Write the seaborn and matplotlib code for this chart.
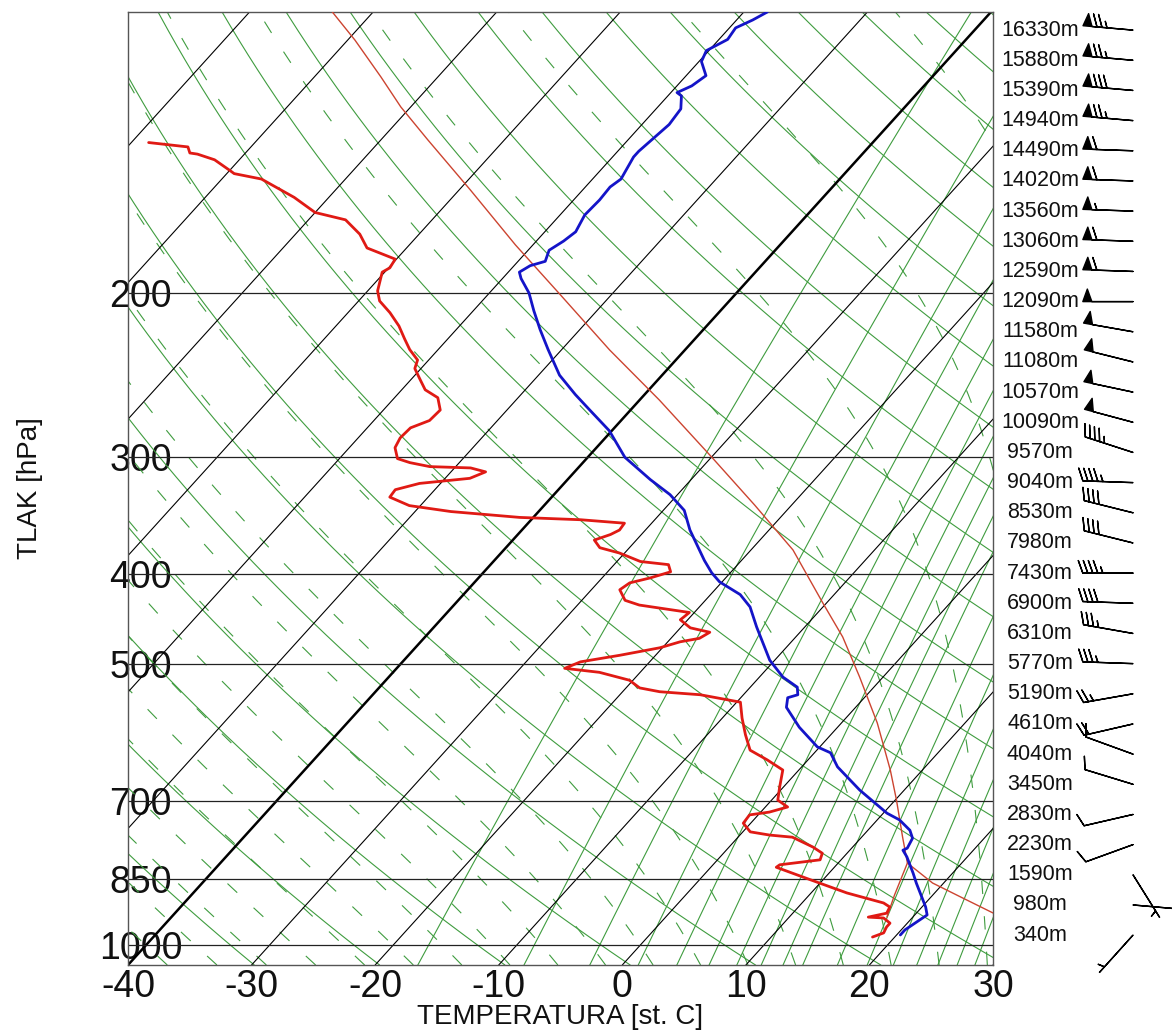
import numpy as np
import pandas as pd
import seaborn as sns
import matplotlib
matplotlib.use("Agg")
import matplotlib.pyplot as plt
from matplotlib.ticker import NullLocator

# Sounding: pressure (hPa) and temperature (deg C)
temp_p = [975, 963, 928, 910, 858, 837, 804, 791, 787, 768, 753, 734, 722, 682, 644, 622,
          613, 584, 556, 543, 539, 529, 516, 495, 456, 434, 421, 408, 399, 387, 359, 342,
          329, 317, 300, 281, 267, 257, 245, 230, 219, 209, 200, 193, 190, 187, 185, 180,
          176, 172, 165, 159, 154, 151, 143, 141, 132, 127, 123, 122, 120, 117, 113, 110,
          107, 104, 102, 100]
temp_t = [20.3, 20.3, 21.0, 20.3, 17.8, 16.8, 15.1, 14.3, 14.5, 14.2, 13.4, 11.8, 10.3, 6.4,
          2.9, 1.3, -0.2, -3.1, -5.6, -6.2, -5.6, -6.2, -8.1, -10.4, -13.9, -15.9, -17.6,
          -20.2, -21.5, -23.0, -26.4, -28.3, -30.6, -33.3, -37.0, -40.2, -43.3, -45.6, -48.3,
          -51.1, -53.2, -55.1, -56.8, -58.5, -59.1, -58.7, -57.8, -58.3, -57.8, -57.5, -58.0,
          -57.9, -58.0, -57.7, -58.3, -58.3, -57.8, -58.0, -58.9, -59.5, -58.8, -58.4, -59.8,
          -60.2, -59.3, -59.5, -58.7, -58.1]

dew_p = [980, 970, 956, 947, 935, 933, 924, 910, 901, 879, 851, 825, 820, 810, 797, 785,
         766, 762, 756, 740, 725, 720, 711, 699, 677, 649, 633, 618, 595, 571, 549, 539,
         535, 530, 520, 510, 505, 497, 489, 480, 473, 469, 462, 457, 448, 440, 432, 427,
         416, 409, 404, 398, 391, 388, 380, 375, 368, 363, 359, 353, 350, 348, 343, 338,
         331, 325, 320, 316, 311, 308, 307, 304, 301, 293, 286, 279, 274, 267, 259, 254,
         248, 241, 236, 230, 224, 217, 210, 204, 199, 190, 188, 184, 179, 173, 167, 164,
         158, 151, 149, 148, 144, 142, 141.6, 139.5, 138]
dew_t = [18.2, 18.8, 18.6, 18.6, 17.7, 16.4, 17.6, 17.4, 16.6, 12.9, 9.0, 5.3, 5.4, 8.3, 8.0,
         6.8, 4.4, 2.4, 0.6, -0.6, -0.7, 0.7, 1.8, 0.5, -0.3, -1.3, -3.3, -5.4, -6.9, -8.4,
         -9.7, -13.5, -17.0, -18.9, -20.3, -23.3, -26.4, -25.6, -22.9, -20.2, -19.0, -17.7,
         -17.3, -19.2, -20.6, -20.4, -25.0, -26.5, -27.7, -27.4, -26.1, -24.9, -25.6, -28.1,
         -30.4, -32.4, -33.4, -32.5, -32.1, -32.2, -36.0, -41.1, -47.1, -50.9, -53.1, -53.2,
         -51.7, -48.0, -47.2, -48.7, -52.1, -54.0, -55.3, -56.3, -56.6, -56.5, -55.5, -55.4,
         -56.5, -58.1, -59.2, -60.5, -60.9, -62.3, -63.5, -64.9, -66.6, -68.3, -69.2, -70.2,
         -69.9, -70.1, -73.2, -74.8, -77.0, -80.0, -82.8, -86.8, -89.4, -89.9, -92.0, -93.8,
         -94.5, -95.1, -98.6]

# lifted parcel (thin red) and the mixing-ratio leg from the ground to the LCL
parcel_p = [100, 107.2, 117.4, 126.4, 137.1, 155.1, 177.7, 201.0, 230.2, 260.5, 299.8, 337.5,
            377.1, 429.8, 467.4, 515.9, 577.9, 649.0, 698.9, 765.6, 816.4, 857.7, 887.8, 923.6]
parcel_t = [-93.3, -89.4, -84.6, -80.8, -76.2, -69.1, -61.4, -54.1, -46.1, -38.4, -30.0, -23.0,
            -16.6, -10.3, -6.2, -1.9, 2.9, 7.4, 10.1, 13.3, 15.6, 19.1, 22.4, 26.2]
mix_p = [816.4, 883.4, 932.7]
mix_t = [15.6, 16.9, 17.9]

# heights and winds on the right hand side (top to bottom)
heights = [16330, 15880, 15390, 14940, 14490, 14020, 13560, 13060, 12590, 12090, 11580,
           11080, 10570, 10090, 9570, 9040, 8530, 7980, 7430, 6900, 6310, 5770, 5190, 4610,
           4040, 3450, 2830, 2230, 1590, 980, 340]
wind_dir = [275, 275, 275, 275, 272, 272, 272, 272, 272, 270, 280, 284, 282, 285, 288, 272,
            284, 284, 270, 272, 280, 272, 260, 257, 290, 287, 257, 250, 148, 95, 222]
wind_kt = [75, 75, 80, 75, 60, 60, 55, 60, 60, 50, 50, 50, 50, 50, 45, 45, 40, 40, 45, 40,
           35, 35, 25, 20, 10, 10, 10, 10, 5, 5, 5]

press_ticks = [200, 300, 400, 500, 700, 850, 1000]
temp_ticks = [-40, -30, -20, -10, 0, 10, 20, 30]

# diagram background families
dry_theta = np.arange(200, 520, 10)
moist_tw = np.arange(-40, 44, 4)
mix_ratio = [1, 2, 3, 4, 5, 6, 7, 8, 9, 10, 12, 14, 16, 18, 20, 22, 24]

P_BOT, P_TOP = 1050.0, 100.0
SKEW = 29.7
GREEN = "#3f9c3f"


def skewx(t, p):
    return np.asarray(t, float) + SKEW * np.log(P_BOT / np.asarray(p, float))


def moist_line(tw):
    rd, cp, lv, eps = 287.04, 1005.7, 2.501e6, 0.622

    def lapse(t, p):
        es = 6.112 * np.exp(17.67 * (t - 273.15) / (t - 29.65))
        rs = eps * es / (p - es)
        return (rd * t + lv * rs) / (p * (cp + lv * lv * rs * eps / (rd * t * t)))

    parts = []
    grids = (np.geomspace(1000, P_TOP, 240), np.geomspace(1000, P_BOT, 12))
    for grid in grids:
        t = tw + 273.15
        ts = [t]
        for p0, p1 in zip(grid[:-1], grid[1:]):
            k1 = lapse(t, p0)
            k2 = lapse(t + k1 * (p1 - p0), p1)
            t = t + 0.5 * (k1 + k2) * (p1 - p0)
            ts.append(t)
        parts.append(np.array(ts))
    p = np.concatenate([grids[1][::-1], grids[0][1:]])
    t = np.concatenate([parts[1][::-1], parts[0][1:]]) - 273.15
    return p, t


sns.set_theme(style="white")
plt.rcParams["font.family"] = ["Liberation Sans", "DejaVu Sans"]

fig = plt.figure(figsize=(11.72, 10.33), dpi=100)
ax = fig.add_axes([128 / 1172, 68 / 1033, 865 / 1172, 953 / 1033])
ax.set_yscale("log")

pp = np.geomspace(P_BOT, P_TOP, 200)

# dry adiabats
for th in dry_theta:
    t = th * (pp / 1000.0) ** 0.2857 - 273.15
    ax.plot(skewx(t, pp), pp, color=GREEN, lw=0.8, zorder=1)

# moist adiabats (dashed)
for tw in moist_tw:
    mp, mt = moist_line(tw)
    ax.plot(skewx(mt, mp), mp, color=GREEN, lw=0.8, ls=(0, (12, 20)), zorder=1)

# saturation mixing ratio lines
for w in mix_ratio:
    e = w / 1000.0 * pp / (0.622 + w / 1000.0)
    le = np.log(e / 6.112)
    td = 243.5 * le / (17.67 - le)
    ax.plot(skewx(td, pp), pp, color=GREEN, lw=0.8, zorder=1)

# isotherms
for t in range(-150, 40, 10):
    ax.plot(skewx(np.full_like(pp, t), pp), pp, color="black",
            lw=1.8 if t == -40 else 0.8, zorder=2)

for p in press_ticks:
    ax.axhline(p, color="#222222", lw=0.9, zorder=2)

# profiles
df_mix = pd.DataFrame({"x": skewx(mix_t, mix_p), "p": mix_p})
sns.lineplot(data=df_mix, x="x", y="p", sort=False, estimator=None,
             color="#cc4430", lw=1.0, ax=ax, zorder=3)
df_par = pd.DataFrame({"x": skewx(parcel_t, parcel_p), "p": parcel_p})
sns.lineplot(data=df_par, x="x", y="p", sort=False, estimator=None,
             color="#cc4430", lw=1.0, ax=ax, zorder=3)
df_dew = pd.DataFrame({"x": skewx(dew_t, dew_p), "p": dew_p})
sns.lineplot(data=df_dew, x="x", y="p", sort=False, estimator=None,
             color="#e01a14", lw=2.0, ax=ax, zorder=4)
df_tmp = pd.DataFrame({"x": skewx(temp_t, temp_p), "p": temp_p})
sns.lineplot(data=df_tmp, x="x", y="p", sort=False, estimator=None,
             color="#1414c8", lw=2.0, ax=ax, zorder=5)

ax.set_xlim(-40, 30)
ax.set_ylim(P_BOT, P_TOP)
ax.yaxis.set_minor_locator(NullLocator())
ax.set_yticks(press_ticks, [str(p) for p in press_ticks])
ax.set_xticks(temp_ticks, [str(t) for t in temp_ticks])
ax.tick_params(axis="both", length=0, labelsize=27, colors="#111111")
ax.tick_params(axis="y", pad=-9)
for lab in ax.get_yticklabels():
    lab.set_ha("center")
ax.tick_params(axis="x", pad=3)

ax.set_xlabel("TEMPERATURA [st. C]", fontsize=20, color="#111111")
ax.set_ylabel("TLAK [hPa]", fontsize=20, color="#111111")
ax.xaxis.set_label_coords(0.5, -0.055)
ax.yaxis.set_label_coords(-0.113, 0.5)
ax.xaxis.label.set_va("center")
ax.yaxis.label.set_va("center")

for s in ax.spines.values():
    s.set_color("#555555")
    s.set_linewidth(1.0)

# heights and wind barbs
side = fig.add_axes([995 / 1172, 68 / 1033, 177 / 1172, 953 / 1033])
side.set_xlim(0, 177)
side.set_ylim(30.99, -0.6)
side.axis("off")
slots = np.arange(len(heights))
for i, h in enumerate(heights):
    side.text(45, i, f"{h}m", ha="center", va="center", fontsize=15.5, color="#111111")
rad = np.deg2rad(wind_dir)
u = -np.asarray(wind_kt) * np.sin(rad)
v = -np.asarray(wind_kt) * np.cos(rad)
side.barbs(np.full(len(heights), 138.0), slots, u, v, length=8.5, pivot="tip",
           sizes=dict(height=0.25, spacing=0.1, width=0.18),
           linewidth=1.0, color="black", clip_on=False)

fig.savefig("out.png", dpi=100, facecolor="white")
